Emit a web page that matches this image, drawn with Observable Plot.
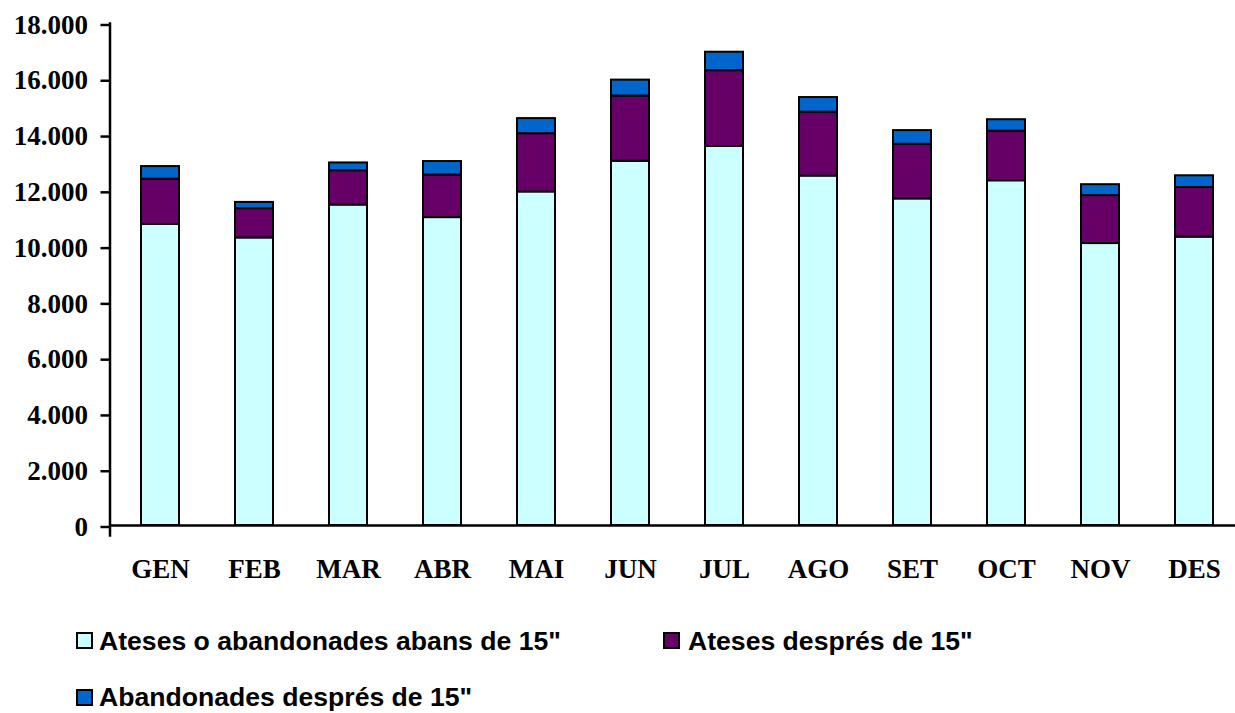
<!DOCTYPE html>
<html>
<head>
<meta charset="utf-8">
<script src="https://cdn.jsdelivr.net/npm/d3@7"></script>
<script src="https://cdn.jsdelivr.net/npm/@observablehq/plot@0.6"></script>
<style>
  html, body { margin: 0; padding: 0; background: #fff; }
  #wrap { position: relative; width: 1235px; height: 713px; overflow: hidden; }
  #chart svg { display: block; }
  .lg-sq { position: absolute; width: 17px; height: 17px; box-sizing: border-box; border: 2px solid #000; }
  .lg-tx { position: absolute; font-family: "Liberation Sans", Arial, sans-serif; font-weight: bold; font-size: 26.6px; line-height: 26px; white-space: nowrap; color: #000; }
</style>
</head>
<body>
<div id="wrap">
  <div id="chart"></div>
  <div id="legend"></div>
</div>
<script>
const months = ["GEN","FEB","MAR","ABR","MAI","JUN","JUL","AGO","SET","OCT","NOV","DES"];
const series = ["Ateses o abandonades abans de 15\"", "Ateses després de 15\"", "Abandonades després de 15\""];
const atesesAbans = [10800, 10310, 11490, 11040, 11960, 13060, 13590, 12530, 11710, 12360, 10110, 10340];
const atesesDespres = [1620, 1050, 1230, 1530, 2090, 2340, 2720, 2290, 1960, 1780, 1720, 1780];
const abandonadesDespres = [450, 225, 280, 480, 540, 570, 660, 525, 490, 410, 390, 420];
const yTicks = [0, 2000, 4000, 6000, 8000, 10000, 12000, 14000, 16000, 18000];
const colors = ["#CCFFFF", "#660066", "#0066CC"];

const valuesBySeries = [atesesAbans, atesesDespres, abandonadesDespres];
const table = [];
months.forEach((m, i) => {
  series.forEach((s, j) => table.push({month: m, series: s, value: valuesBySeries[j][i]}));
});

const fmt = d => d3.format(",")(d).replace(/,/g, ".");

const chart = Plot.plot({
  width: 1235,
  height: 600,
  marginLeft: 109.5,
  marginRight: 0,
  marginTop: 23,
  marginBottom: 65,
  style: {fontFamily: "'Liberation Serif', 'Times New Roman', serif", fontWeight: "bold", fontSize: "27px", color: "#000", background: "#fff"},
  x: {domain: months, range: [109.5, 1244.7], paddingInner: 0.6, paddingOuter: 0.3},
  y: {domain: [0, 18000], range: [525, 23]},
  color: {domain: series, range: colors},
  marks: [
    Plot.barY(table, {x: "month", y: "value", fill: "series", z: "series", stroke: "#000", strokeWidth: 2}),
    Plot.ruleX(months, {x: d => d, dx: -47.3, y1: 0, stroke: "#000", strokeWidth: 2.5}),
    Plot.ruleY([0], {stroke: "#000", strokeWidth: 2.5}),
    Plot.frame({anchor: "left", stroke: "#000", strokeWidth: 2.5}),
    Plot.axisY({ticks: yTicks, tickSize: 9, tickPadding: 13, tickFormat: fmt, strokeWidth: 2.5, dy: 1.5, label: null}),
    Plot.axisX({tickSize: 0, tickPadding: 23, label: null})
  ]
});
document.getElementById("chart").appendChild(chart);

// Legend (HTML, below the SVG)
const legendItems = [
  {sq: [75.7, 632], tx: [99, 628]},
  {sq: [662.7, 632], tx: [688, 628]},
  {sq: [75.7, 689], tx: [99, 684]}
];
const lg = document.getElementById("legend");
series.forEach((s, i) => {
  const sq = document.createElement("div");
  sq.className = "lg-sq";
  sq.style.left = legendItems[i].sq[0] + "px";
  sq.style.top = legendItems[i].sq[1] + "px";
  sq.style.background = colors[i];
  lg.appendChild(sq);
  const tx = document.createElement("div");
  tx.className = "lg-tx";
  tx.style.left = legendItems[i].tx[0] + "px";
  tx.style.top = legendItems[i].tx[1] + "px";
  tx.textContent = s;
  lg.appendChild(tx);
});
</script>
</body>
</html>
